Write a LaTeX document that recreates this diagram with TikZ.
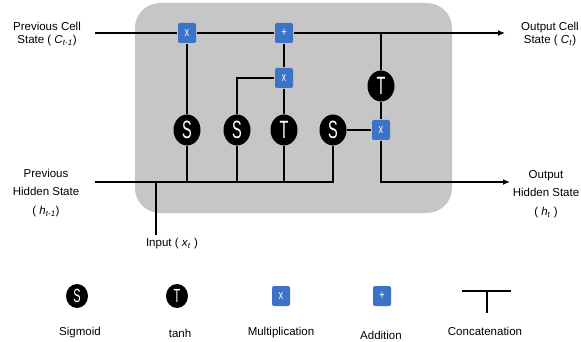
\documentclass[tikz,border=0pt]{standalone}
\usepackage{fontspec}
\usepackage{graphicx}
\usepackage{xcolor}
\setmainfont{Liberation Sans}
\usetikzlibrary{arrows.meta, calc, positioning, shapes.geometric}

\definecolor{opblue}{HTML}{3C73C6}
\definecolor{cellgray}{HTML}{C6C6C6}

% narrow white letters inside the gates
\newcommand{\gatesym}[2]{\scalebox{0.58}[1]{\fontsize{#2}{#2}\selectfont #1}}
\newcommand{\opsym}[1]{\scalebox{0.7}[1]{\fontsize{13}{13}\selectfont #1}}

\begin{document}
\begin{tikzpicture}[x=1pt, y=-1pt, line width=1.6pt,
  act/.style={ellipse, fill=black, minimum width=27pt, minimum height=31pt, inner sep=0pt, text=white},
  actsmall/.style={ellipse, fill=black, minimum width=22pt, minimum height=24pt, inner sep=0pt, text=white},
  op/.style={rectangle, rounded corners=2pt, fill=opblue, minimum width=18pt, minimum height=20pt, inner sep=0pt, text=white},
  lbl/.style={align=center, font=\fontsize{11.5}{13}\selectfont},
  lblwide/.style={align=center, font=\fontsize{11.5}{18.5}\selectfont},
  flow/.style={-{Latex[length=7pt, width=6pt]}}]
\useasboundingbox (0,0) rectangle (581,342);

% Cell
\fill[cellgray, rounded corners=25pt] (135,3) rectangle (452,213);

% Gates
\node[op] (mf) at (187,33) {\opsym{x}};
\node[op] (add) at (284,33) {\opsym{+}};
\node[op] (mi) at (284,78) {\opsym{x}};
\node[op] (mo) at (381,130) {\opsym{x}};
\node[act] (sf) at (187,130) {\gatesym{S}{25}};
\node[act] (si) at (237,130) {\gatesym{S}{25}};
\node[act] (tc) at (284,130) {\gatesym{T}{25}};
\node[act] (so) at (333,130) {\gatesym{S}{25}};
\node[act] (th) at (381,86) {\gatesym{T}{25}};

% Ends of the lines
\coordinate (cin) at (95,33);
\coordinate (cout) at (505,33);
\coordinate (hin) at (95,182);
\coordinate (hout) at (510,182);
\coordinate (xin) at (156,235);

% Cell state
\draw (cin) -- (mf);
\draw (mf) -- (add);
\draw[flow] (add) -- (cout);

% Hidden state and input
\draw (hin) -- (so |- hin) -- (so);
\draw (xin) -- (xin |- hin);
\draw (sf) -- (sf |- hin);
\draw (si) -- (si |- hin);
\draw (tc) -- (tc |- hin);

% Gate wiring
\draw (sf) -- (mf);
\draw (si) |- (mi);
\draw (tc) -- (mi);
\draw (mi) -- (add);
\draw (th |- cin) -- (th);
\draw (th) -- (mo);
\draw (so) -- (mo);
\draw[flow] (mo) |- (hout);

% Labels
\node[lbl] (lcin) at (47,34) {Previous Cell\\State ( \textit{C}\textsubscript{\textit{t-1}})};
\node[lbl] (lcout) at (550,34) {Output Cell\\State ( \textit{C}\textsubscript{\textit{t}})};
\node[lblwide] (lhin) at (46,193) {Previous\\Hidden State\\( \textit{h}\textsubscript{\textit{t-1}})};
\node[lblwide] (lhout) at (546,194) {Output\\Hidden State\\( \textit{h}\textsubscript{\textit{t}} )};
\node[lbl] (lxin) at (172,244) {Input ( \textit{x}\textsubscript{\textit{t}} )};

% Legend
\node[actsmall] (kS) at (77,296) {\gatesym{S}{19}};
\node[actsmall] (kT) at (177,296) {\gatesym{T}{19}};
\node[op] (kX) at (281,296) {\opsym{x}};
\node[op] (kA) at (382,296) {\opsym{+}};
\coordinate (kl) at (462,291);
\coordinate (kr) at (511,291);
\coordinate (kb) at (487,313);
\draw (kl) -- (kr);
\draw (kb |- kl) -- (kb);

\node[lbl] (tS) at (80,333) {Sigmoid};
\node[lbl] (tT) at (180,333) {tanh};
\node[lbl] (tX) at (281,333) {Multiplication};
\node[lbl] (tA) at (381,335) {Addition};
\node[lbl] (tC) at (485,331) {Concatenation};
\end{tikzpicture}
\end{document}
